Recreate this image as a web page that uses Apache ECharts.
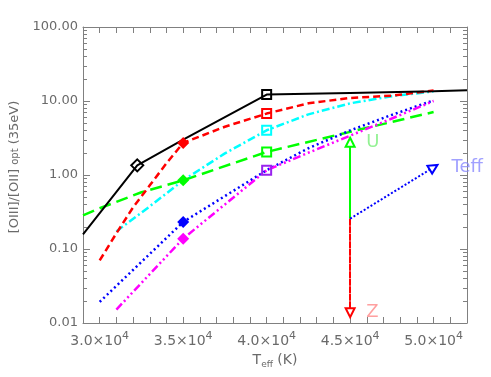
<!DOCTYPE html>
<html>
<head>
<meta charset="utf-8">
<script src="https://cdn.jsdelivr.net/npm/echarts@6/dist/echarts.min.js"></script>
<style>
  html, body { margin: 0; padding: 0; background: #fff; }
  #main { width: 491px; height: 377px; }
</style>
</head>
<body>
<div id="main"></div>
<script>
var myChart = echarts.init(document.getElementById('main'));

// x range and tick labels
var xMin = 29000, xMax = 52000;
var xTickLabels = {30000: '3.0', 35000: '3.5', 40000: '4.0', 45000: '4.5', 50000: '5.0'};
var yMinorTicks = [0.02, 0.03, 0.04, 0.05, 0.06, 0.07, 0.08, 0.09,
    0.2, 0.3, 0.4, 0.5, 0.6, 0.7, 0.8, 0.9,
    2, 3, 4, 5, 6, 7, 8, 9,
    20, 30, 40, 50, 60, 70, 80, 90];

// model tracks (Teff, ratio)
var tBlack = [29000, 32250, 35000, 40000, 45000, 50000, 52000];
var vBlack = [0.158, 1.35, 3.0, 12.2, 12.8, 13.5, 14.0];

var tRed = [30000, 31000, 32000, 33000, 34000, 35000, 37500, 40000, 42500, 45000, 47500, 50000];
var vRed = [0.070, 0.163, 0.366, 0.725, 1.44, 2.71, 4.49, 6.76, 9.3, 11.0, 11.8, 13.9];

var tCyan = [31000, 33000, 35000, 37500, 40000, 42500, 45000, 47500, 50000];
var vCyan = [0.173, 0.377, 0.848, 1.96, 4.02, 6.6, 9.3, 11.6, 13.5];

var tGreen = [29000, 30000, 32500, 35000, 40000, 45000, 50000];
var vGreen = [0.285, 0.355, 0.584, 0.848, 2.05, 3.83, 7.1];

var tBlue = [30000, 35000, 40000, 42500, 45000, 47500, 50000];
var vBlue = [0.0193, 0.232, 1.16, 2.3, 4.0, 6.5, 10.2];

var tMagenta = [31000, 35000, 40000, 42500, 45000, 47500, 50000];
var vMagenta = [0.0152, 0.138, 1.16, 2.0, 3.4, 5.8, 10.0];

// direction arrows
var arrowBase = [45000, 0.257];
var uTip = [45000, 2.77];
var zTip = [45000, 0.0138];
var teffTip = [50000, 1.27];

var axisColor = '#808080';
var textColor = '#6a6a6a';
var font = 'DejaVu Sans';

function openMark(shape, size, color) {
    return {symbol: shape, symbolSize: size, itemStyle: {color: 'rgba(0,0,0,0)', borderColor: color, borderWidth: 2}};
}
function fillMark(shape, size, color) {
    return {symbol: shape, symbolSize: size, itemStyle: {color: color, borderWidth: 0}};
}

function track(name, xs, vs, color, dash, width, marks) {
    var data = xs.map(function (x, i) {
        var item = {value: [x, vs[i]]};
        if (marks[x]) {
            Object.assign(item, marks[x]);
        } else {
            item.symbol = 'none';
        }
        return item;
    });
    return {
        name: name,
        type: 'line',
        data: data,
        showSymbol: true,
        symbol: 'none',
        color: color,
        lineStyle: {color: color, width: width, type: dash},
        emphasis: {disabled: true},
        animation: false,
        z: 3
    };
}

var xLabelFmt = function (v) {
    return xTickLabels[v] ? xTickLabels[v] + '×10{s|4}' : '';
};

option = {
    animation: false,
    grid: {left: 83, right: 24, top: 27, bottom: 54},
    xAxis: [{
        type: 'value',
        min: xMin,
        max: xMax,
        interval: 1000,
        name: 'T{b|eff} (K)',
        nameLocation: 'middle',
        nameGap: 28,
        nameTextStyle: {
            color: textColor, fontFamily: font, fontSize: 14,
            rich: {b: {fontSize: 9, color: textColor, fontFamily: font, padding: [9, 0, 0, 0]}}
        },
        axisLine: {lineStyle: {color: axisColor}},
        axisTick: {inside: true, length: 6, lineStyle: {color: axisColor}},
        splitLine: {show: false},
        axisLabel: {
            formatter: xLabelFmt, color: textColor, fontFamily: font, fontSize: 14, margin: 8,
            rich: {s: {fontSize: 11, color: textColor, fontFamily: font, padding: [0, 0, 9, 0]}}
        }
    }, {
        type: 'value',
        position: 'top',
        min: xMin,
        max: xMax,
        interval: 1000,
        axisLine: {lineStyle: {color: axisColor}},
        axisTick: {inside: true, length: 6, lineStyle: {color: axisColor}},
        axisLabel: {show: false},
        splitLine: {show: false}
    }],
    yAxis: [{
        type: 'log',
        min: 0.01,
        max: 100,
        name: '[OIII]/[OII] {s|opt} (35eV)',
        nameLocation: 'middle',
        nameGap: 60,
        nameTextStyle: {
            color: textColor, fontFamily: font, fontSize: 13, padding: [0, 0, 0, 16],
            rich: {s: {fontSize: 10, color: textColor, fontFamily: font}}
        },
        axisLine: {lineStyle: {color: axisColor}},
        axisTick: {inside: true, length: 7, lineStyle: {color: axisColor}},
        splitLine: {show: false},
        axisLabel: {
            formatter: function (v) { return v.toFixed(2); },
            color: textColor, fontFamily: font, fontSize: 13, margin: 5
        }
    }, {
        type: 'log',
        position: 'right',
        min: 0.01,
        max: 100,
        axisLine: {lineStyle: {color: axisColor}},
        axisTick: {inside: true, length: 7, lineStyle: {color: axisColor}},
        axisLabel: {show: false},
        splitLine: {show: false}
    }],
    series: [
        {
            // log minor ticks on both y sides
            type: 'custom',
            silent: true,
            data: yMinorTicks.map(function (v) { return [xMin, v]; }),
            encode: {x: 0, y: 1},
            renderItem: function (params, api) {
                var cs = params.coordSys;
                var y = Math.round(api.coord([xMin, api.value(1)])[1]) + 0.5;
                var st = {stroke: axisColor, lineWidth: 1};
                return {
                    type: 'group',
                    children: [
                        {type: 'line', shape: {x1: cs.x, y1: y, x2: cs.x + 4, y2: y}, style: st},
                        {type: 'line', shape: {x1: cs.x + cs.width - 4, y1: y, x2: cs.x + cs.width, y2: y}, style: st}
                    ]
                };
            },
            z: 1
        },
        track('green', tGreen, vGreen, '#00ff00', [12, 6], 2.5, {
            35000: fillMark('diamond', 12, '#00ff00'),
            40000: openMark('rect', 9, '#00ff00')
        }),
        track('cyan', tCyan, vCyan, '#00ffff', [8, 3, 2, 3], 2.5, {
            40000: openMark('rect', 9, '#00ffff')
        }),
        track('blue', tBlue, vBlue, '#0000ff', [2, 3], 2.5, {
            35000: fillMark('diamond', 12, '#0000ff')
        }),
        track('magenta', tMagenta, vMagenta, '#ff00ff', [8, 3, 2, 3, 2, 3, 2, 3], 2.5, {
            35000: fillMark('diamond', 12, '#ff00ff'),
            40000: openMark('rect', 9, '#9922ee')
        }),
        track('red', tRed, vRed, '#ff0000', [7, 4], 2.5, {
            35000: fillMark('diamond', 12, '#ff0000'),
            40000: openMark('rect', 9, '#ff0000')
        }),
        track('black', tBlack, vBlack, '#000000', 'solid', 2, {
            32250: openMark('diamond', 12, '#000000'),
            40000: openMark('rect', 9, '#000000')
        }),
        {
            // U / Z / Teff arrows
            type: 'line',
            data: [],
            silent: true,
            markLine: {
                silent: true,
                animation: false,
                symbol: ['none', 'emptyTriangle'],
                symbolSize: 9,
                label: {show: false},
                data: [
                    [{coord: arrowBase, lineStyle: {color: '#00ff00', width: 2, type: 'solid'}}, {coord: uTip}],
                    [{coord: arrowBase, lineStyle: {color: '#ff0000', width: 2, type: [7, 0.5]}}, {coord: zTip}],
                    [{coord: arrowBase, lineStyle: {color: '#0000ff', width: 2, type: [2, 2]}}, {coord: teffTip}]
                ]
            }
        },
        {
            type: 'scatter',
            silent: true,
            symbolSize: 0,
            data: [
                {value: uTip, label: {formatter: 'U', color: '#77ee77', distance: 16}},
                {value: zTip, label: {formatter: 'Z', color: '#ff8888', distance: 16}},
                {value: teffTip, label: {formatter: 'Teff', color: '#8a8aff', distance: 18}}
            ],
            label: {show: true, position: 'right', fontFamily: font, fontSize: 18},
            z: 5
        }
    ]
};

myChart.setOption(option);
</script>
</body>
</html>
